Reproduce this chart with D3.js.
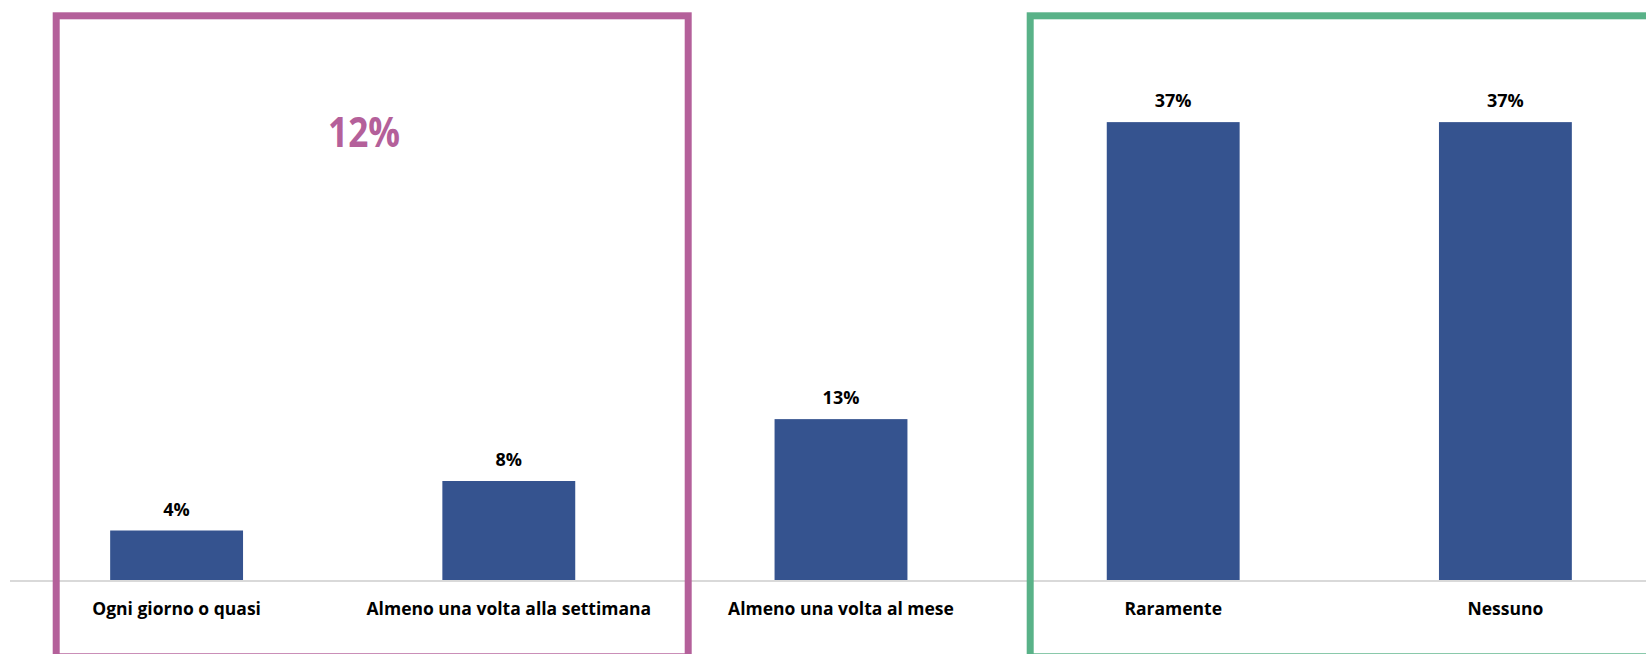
<!DOCTYPE html>
<html>
<head>
<meta charset="utf-8">
<script src="https://cdn.jsdelivr.net/npm/d3@7"></script>
<style>
  html, body { margin: 0; padding: 0; background: #fff; }
  svg { display: block; }
  text { font-family: "Open Sans", "Noto Sans", sans-serif; }
</style>
</head>
<body>
<svg id="chart" width="1646" height="654"></svg>
<script>
// data
const categories = ['Ogni giorno o quasi', 'Almeno una volta alla settimana', 'Almeno una volta al mese', 'Raramente', 'Nessuno']
const values = [4, 8, 13, 37, 37]
const valueLabels = ['4%', '8%', '13%', '37%', '37%']
const groupLabel = '12%'

const width = 1646
const height = 654
const purple = '#b4609a'
const green = '#59b288'
const barColor = '#35538f'

const svg = d3.select('#chart')

// plot area runs past the right edge, like the cropped original
const x = d3.scaleBand()
  .domain(categories)
  .range([10.5, 1671.5])
  .paddingInner(0.6)
  .paddingOuter(0.3)

const y = d3.scaleLinear()
  .domain([0, 40])
  .range([580, 85])

// bars
svg.append('g')
  .selectAll('rect')
  .data(values)
  .join('rect')
    .attr('x', (d, i) => x(categories[i]))
    .attr('y', d => y(d))
    .attr('width', x.bandwidth())
    .attr('height', d => y(0) - y(d))
    .attr('fill', barColor)

// baseline
svg.append('line')
  .attr('x1', 10)
  .attr('x2', width)
  .attr('y1', y(0) + 1)
  .attr('y2', y(0) + 1)
  .attr('stroke', '#d9d9d9')
  .attr('stroke-width', 2)

// value labels
svg.append('g')
  .selectAll('text')
  .data(valueLabels)
  .join('text')
    .attr('x', (d, i) => x(categories[i]) + x.bandwidth() / 2)
    .attr('y', (d, i) => y(values[i]) - 15)
    .attr('text-anchor', 'middle')
    .attr('font-size', 18)
    .attr('font-weight', 700)
    .attr('fill', '#000')
    .text(d => d)

// category axis labels
const xAxis = svg.append('g')
  .attr('transform', `translate(0,${y(0)})`)
  .call(d3.axisBottom(x).tickSize(0).tickPadding(0))
xAxis.select('.domain').remove()
xAxis.selectAll('text')
  .attr('dy', null)
  .attr('y', 35)
  .attr('font-size', 17.5)
  .attr('font-weight', 700)
  .attr('fill', '#000')
  .style('font-family', '"Open Sans", "Noto Sans", sans-serif')

// highlight boxes
svg.append('rect')
  .attr('x', 56.2)
  .attr('y', 15.8)
  .attr('width', 632)
  .attr('height', 641)
  .attr('fill', 'none')
  .attr('stroke', purple)
  .attr('stroke-width', 7)

svg.append('rect')
  .attr('x', 1030.2)
  .attr('y', 15.8)
  .attr('width', 660)
  .attr('height', 641)
  .attr('fill', 'none')
  .attr('stroke', green)
  .attr('stroke-width', 7)

// group total
svg.append('text')
  .attr('x', 364)
  .attr('y', 146.5)
  .attr('text-anchor', 'middle')
  .attr('font-size', 42)
  .attr('font-weight', 700)
  .attr('fill', purple)
  .attr('textLength', 72)
  .attr('lengthAdjust', 'spacingAndGlyphs')
  .text(groupLabel)
</script>
</body>
</html>
